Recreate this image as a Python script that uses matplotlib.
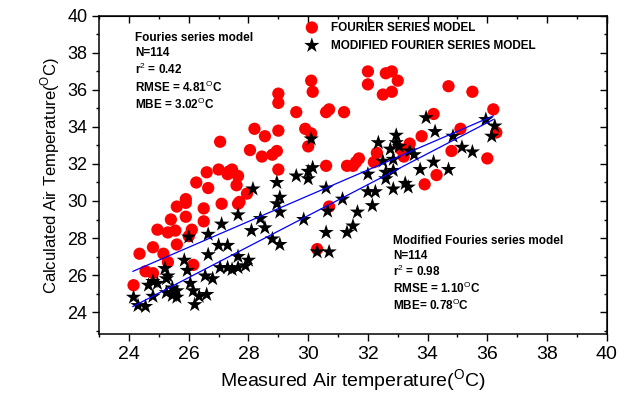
import matplotlib
matplotlib.use("Agg")
import matplotlib.pyplot as plt

plt.rcParams["font.family"] = ["Liberation Sans", "DejaVu Sans"]
plt.rcParams["mathtext.fontset"] = "custom"
plt.rcParams["mathtext.rm"] = "Liberation Sans"
plt.rcParams["mathtext.bf"] = "Liberation Sans:bold"

# Fourier series model (red circles)
fourier_x = [32.0, 32.6, 32.8, 33.0, 32.0, 32.5, 32.8, 34.7, 35.5, 36.2,
             34.2, 35.1, 33.8, 36.3, 33.4, 34.8, 36.0, 34.3, 33.9, 31.7,
             32.3, 32.2, 31.5, 33.1, 33.2, 30.1, 30.15, 29.0, 29.0, 29.6,
             30.6, 30.7, 31.2, 28.2, 28.55, 29.0, 29.9, 30.1, 30.0, 28.05,
             28.45, 28.8, 28.95, 29.0, 30.6, 31.3, 31.6, 27.45, 27.65, 27.6,
             27.95, 27.7, 27.05, 26.6, 27.0, 27.35, 27.3, 26.25, 26.65, 25.9,
             25.9, 25.6, 26.5, 27.1, 27.65, 25.4, 25.9, 26.5, 24.95, 25.3,
             25.55, 26.1, 26.0, 25.6, 24.8, 24.35, 25.15, 25.3, 26.15, 24.55,
             24.8, 24.15, 30.3, 30.7]
fourier_y = [37.0, 36.9, 37.0, 36.5, 36.3, 35.75, 35.9, 36.2, 35.9, 34.95,
             34.7, 33.9, 33.5, 33.7, 33.1, 32.7, 32.3, 31.4, 30.9, 32.3,
             32.6, 32.1, 31.9, 32.8, 32.4, 36.5, 35.9, 35.8, 35.3, 34.8,
             34.8, 34.95, 34.8, 33.9, 33.5, 33.8, 33.9, 33.65, 32.95, 32.75,
             32.4, 32.5, 32.7, 31.7, 31.9, 31.9, 32.1, 31.7, 31.35, 30.85,
             30.4, 29.95, 33.2, 31.55, 31.7, 31.6, 31.45, 31.0, 30.7, 30.1,
             29.9, 29.7, 29.6, 29.85, 29.85, 29.0, 29.15, 28.9, 28.45, 28.3,
             28.4, 28.45, 28.1, 27.65, 27.5, 27.15, 27.15, 26.7, 26.55, 26.2,
             26.1, 25.45, 27.4, 29.7]

# Modified Fourier series model (black stars)
modified_x = [24.15, 24.3, 24.55, 24.65, 24.8, 24.95, 24.8, 25.25, 25.25, 25.2,
              25.3, 25.45, 25.45, 25.6, 25.6, 25.85, 25.95, 26.0, 26.05, 26.15,
              26.2, 26.35, 26.6, 26.55, 26.8, 26.65, 26.65, 27.0, 27.3, 27.05,
              27.3, 27.65, 27.1, 27.65, 27.65, 28.0, 27.9, 27.45, 28.1, 28.4,
              28.55, 28.8, 29.05, 28.15, 28.95, 29.05, 28.95, 29.05, 29.85, 29.6,
              30.0, 30.15, 30.0, 30.1, 30.6, 31.15, 30.65, 30.6, 30.3, 30.7,
              31.3, 31.5, 31.65, 32.0, 32.25, 32.15, 32.6, 32.85, 33.25, 33.35,
              32.0, 32.6, 32.85, 32.5, 32.85, 32.75, 32.35, 32.95, 32.95, 33.05,
              33.4, 33.55, 33.75, 34.2, 34.7, 33.95, 34.25, 34.85, 35.15, 35.5,
              35.95, 36.25, 36.15]
modified_y = [24.8, 24.35, 24.3, 25.45, 25.65, 25.55, 24.85, 25.05, 25.8, 26.35,
              25.95, 25.3, 24.9, 25.15, 24.8, 26.8, 26.25, 28.05, 25.55, 25.15,
              24.4, 24.85, 24.95, 25.95, 25.8, 28.2, 27.1, 27.6, 27.6, 26.4,
              26.4, 26.4, 28.75, 29.25, 27.0, 26.8, 26.5, 26.3, 28.4, 29.05,
              28.55, 27.95, 27.65, 30.65, 31.0, 30.2, 29.85, 29.4, 29.0, 31.35,
              31.6, 31.8, 31.2, 33.35, 30.7, 30.1, 29.45, 28.3, 27.25, 27.25,
              28.3, 28.65, 29.4, 30.5, 30.5, 29.75, 31.2, 30.65, 30.95, 30.75,
              31.45, 31.55, 31.65, 32.15, 32.25, 32.8, 33.15, 33.55, 33.15, 32.95,
              32.7, 32.5, 31.7, 32.1, 31.7, 34.5, 33.75, 33.5, 32.9, 32.65,
              34.4, 34.05, 33.5]

# fitted lines (end points)
fit_x = [24.13, 36.2]
fit_upper = [26.2, 34.6]
fit_lower = [24.3, 34.4]

fig = plt.figure(figsize=(6.36, 3.97), dpi=100)
ax = fig.add_axes([0.156, 0.158, 0.798, 0.802])

ax.scatter(fourier_x, fourier_y, s=78, color="#ff0000", edgecolors="none",
           label="FOURIER SERIES MODEL", zorder=2)
ax.scatter(modified_x, modified_y, s=135, marker="*", color="black",
           edgecolors="none", label="MODIFIED FOURIER SERIES MODEL", zorder=3)
ax.plot(fit_x, fit_upper, color="#0000ff", linewidth=0.9, zorder=4)
ax.plot(fit_x, fit_lower, color="#0000ff", linewidth=0.9, zorder=4)

ax.set_xlim(23, 40)
ax.set_ylim(22.8, 40)
ax.set_xticks(range(24, 41, 2))
ax.set_yticks(range(24, 41, 2))
ax.set_xticks(range(23, 41), minor=True)
ax.set_yticks(range(23, 41), minor=True)
ax.tick_params(axis="both", which="both", direction="out", width=1)
ax.tick_params(axis="both", which="major", length=5)
ax.tick_params(axis="both", which="minor", length=2.5)
ax.tick_params(axis="x", labelsize=14)
ax.tick_params(axis="y", labelsize=13)
for s in ax.spines.values():
    s.set_linewidth(1.1)

# inward ticks on top and right
top = ax.secondary_xaxis("top")
top.set_xticks(range(24, 41, 2))
top.set_xticks(range(23, 41), minor=True)
top.tick_params(which="both", direction="in", labeltop=False, width=1)
top.tick_params(which="major", length=5)
top.tick_params(which="minor", length=2.5)
right = ax.secondary_yaxis("right")
right.set_yticks(range(24, 41, 2))
right.set_yticks(range(23, 41), minor=True)
right.tick_params(which="both", direction="in", labelright=False, width=1)
right.tick_params(which="major", length=5)
right.tick_params(which="minor", length=2.5)

ax.set_xlabel("Measured Air temperature($^{\\rm O}$C)", fontsize=14, labelpad=3)
ax.set_ylabel("Calculated Air Temperature($^{\\rm O}$C)", fontsize=12, labelpad=4)

ax.legend(loc="upper left", bbox_to_anchor=(0.405, 0.982), frameon=False,
          prop={"weight": "bold", "size": 8.5}, handlelength=1.2,
          handletextpad=1.0, borderpad=0, labelspacing=0.5,
          borderaxespad=0)

box1 = ["Fouries series model", "N=114", "r$^2$ = 0.42",
        "RMSE = 4.81$^{\\rm O}$C", "MBE = 3.02$^{\\rm O}$C"]
box1_y = [0.931, 0.884, 0.831, 0.775, 0.722]
for t, yy in zip(box1, box1_y):
    ax.text(0.071, yy, t, transform=ax.transAxes, fontsize=8.5,
            fontweight="bold", va="center", ha="left")

box2 = ["Modified Fouries series model", "N=114", "r$^2$ = 0.98",
        "RMSE = 1.10$^{\\rm O}$C", "MBE= 0.78$^{\\rm O}$C"]
box2_y = [0.294, 0.247, 0.197, 0.144, 0.091]
for t, yy in zip(box2, box2_y):
    ax.text(0.579, yy, t, transform=ax.transAxes, fontsize=8.5,
            fontweight="bold", va="center", ha="left")

fig.savefig("out.png", dpi=100)
